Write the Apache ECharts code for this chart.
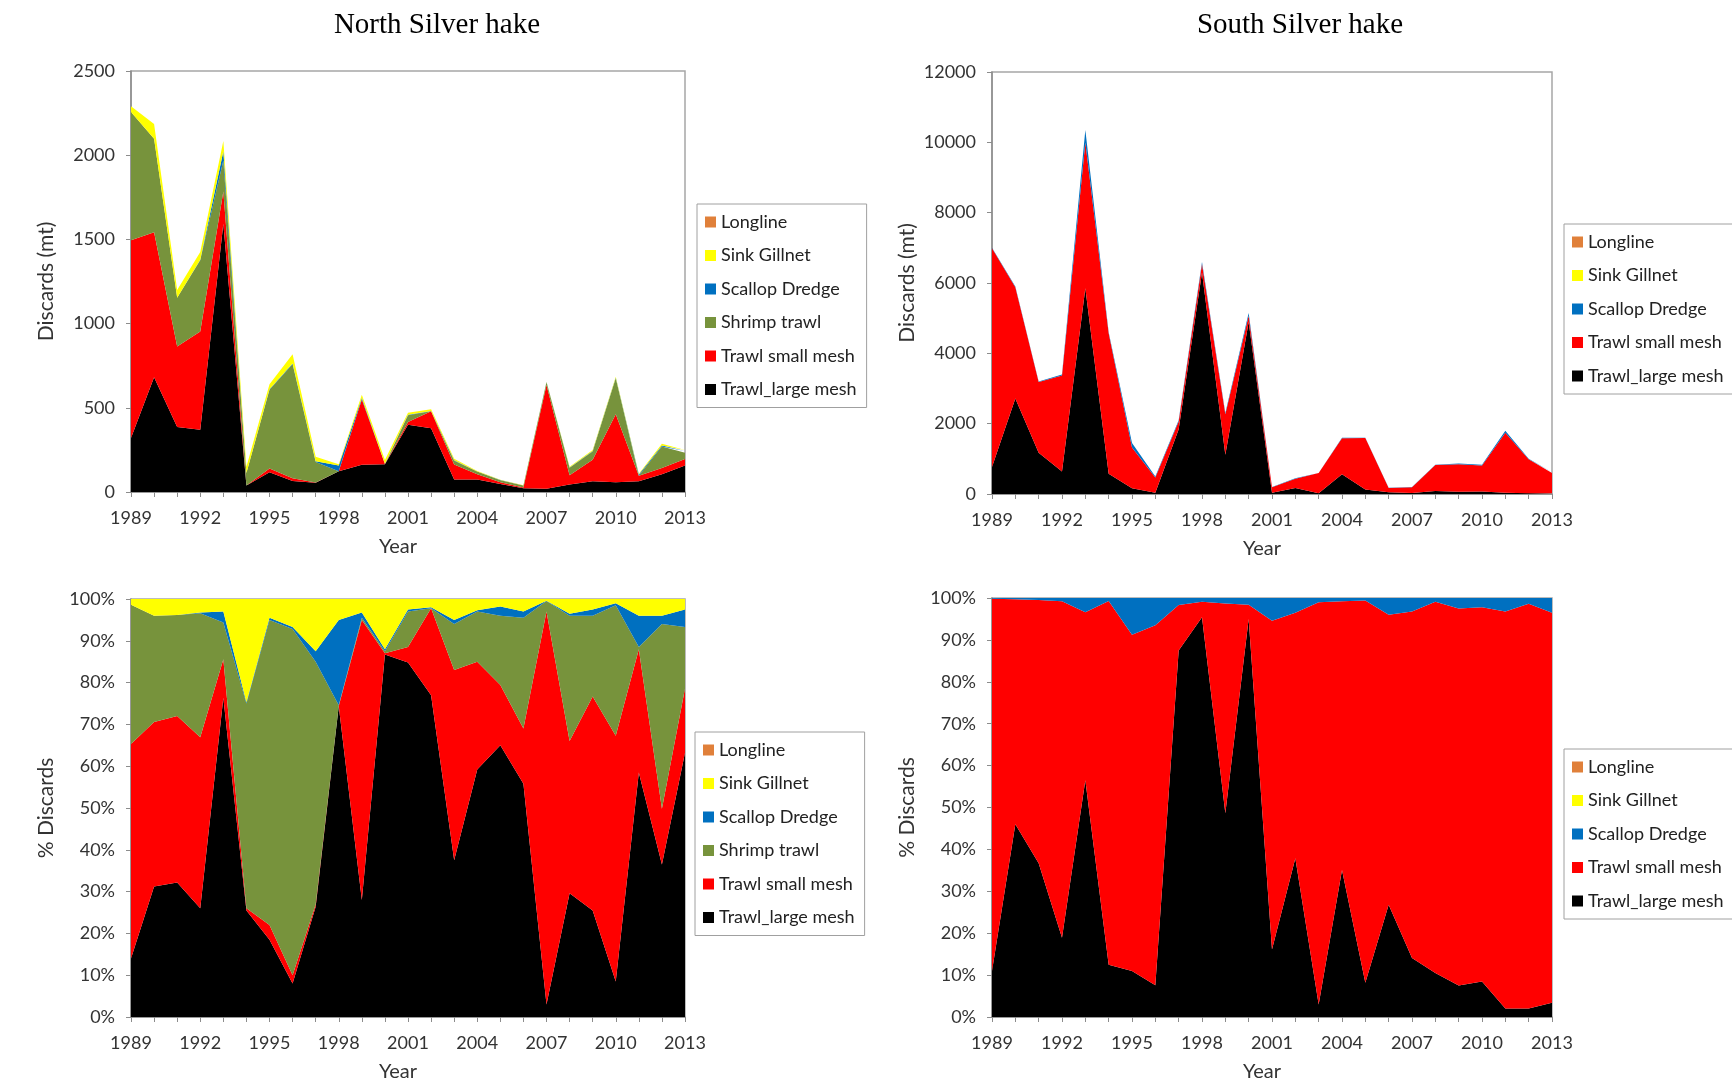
<!DOCTYPE html>
<html><head><meta charset="utf-8">
<script src="https://cdn.jsdelivr.net/npm/echarts@6/dist/echarts.min.js"></script>
<style>html,body{margin:0;padding:0;background:#fff}#c{width:1732px;height:1083px}</style>
</head><body><div id="c"></div>
<script>
const years = ['1989','1990','1991','1992','1993','1994','1995','1996','1997','1998','1999','2000','2001','2002','2003','2004','2005','2006','2007','2008','2009','2010','2011','2012','2013'];

// North Silver hake, discards (mt)
const northAbsLarge   = [320,682,386,370,1593,38,118,65,55,123,162,165,399,378,74,74,47,22,20,44,64,58,64,105,158];
const northAbsSmall   = [1175,860,478,583,192,1,22,16,1,0,387,1,17,102,90,32,10.5,5.3,616,55,128,403,32,38,38];
const northAbsShrimp  = [762,555,290,423,183,74,467,678,122,0.3,3,1,40,0,22,15,12,10.6,16,45,48,214,0.5,127,37];
const northAbsScallop = [0,0,0,3,55,0.5,3,4,5,34,7,1,2,1,2,0.4,1.6,0.6,0.7,0.8,4,3,8,6,11];
const northAbsGillnet = [33,88,46,46,62,37,30,55,26,8,19,22,12,10,10,3.4,1.3,1.2,2.6,5,6,7,4.4,11,6];
const northAbsLongline= [0,0,0,0,0,0,0,0,0,0,0,0,0,0,0,0,0,0,0,0,0,0,0,0,0];

// North Silver hake, % discards
const northPctLarge   = [14,31.2,32.2,26,76.4,25.5,18.5,8,26.4,74.4,28,86.7,84.8,77,37.5,59.2,65,55.8,3,29.6,25.5,8.5,58.5,36.5,63.2];
const northPctSmall   = [51.3,39.4,39.8,40.9,9.2,0.5,3.5,2,0.6,0,67,0.3,3.7,20.8,45.5,25.8,14.4,13.2,94,36.4,51.2,58.8,29.5,13.3,15.4];
const northPctShrimp  = [33.3,25.4,24.2,29.7,8.8,49,73,82.8,58,0.2,0.5,0.5,8.5,0,11,12,16.6,26.5,2.5,30,19.3,31.2,0.5,44.2,14.7];
const northPctScallop = [0,0,0,0.2,2.6,0.3,0.5,0.5,2.5,20.4,1.3,0.5,0.5,0.2,1,0.3,2.2,1.5,0.1,0.5,1.5,0.5,7.5,2,4.2];
const northPctGillnet = [1.4,4,3.8,3.2,3,24.7,4.5,6.7,12.5,5,3.2,12,2.5,2,5,2.7,1.8,3,0.4,3.5,2.5,1,4,4,2.5];
const northPctLongline= [0,0,0,0,0,0,0,0,0,0,0,0,0,0,0,0,0,0,0,0,0,0,0,0,0];

// South Silver hake, discards (mt)
const southAbsLarge   = [770,2714,1174,643,5848,575,160,38,1838,6296,1118,4893,32,171,18,562,131,48,28,87,65,71,36,20,21];
const southAbsSmall   = [6216,3168,2010,2730,4150,3993,1162,429,226,245,1152,175,157,263,576,1025,1459,125,166,736,783,741,1706,966,577];
const southAbsScallop = [14,18,16,27,352,32,128,33,36,59,30,82,11,16,6,13,10,7,6,7,22,18,58,14,22];
const southAbsGillnet = [0,0,0,0,0,0,0,0,0,0,0,0,0,0,0,0,0,0,0,0,0,0,0,0,0];
const southAbsLongline= [0,0,0,0,0,0,0,0,0,0,0,0,0,0,0,0,0,0,0,0,0,0,0,0,0];

// South Silver hake, % discards
const southPctLarge   = [11,46,36.7,18.9,56.5,12.5,11,7.6,87.5,95.4,48.6,95,16.1,37.9,3,35.1,8.2,26.8,14.1,10.5,7.5,8.5,2,2,3.4];
const southPctSmall   = [88.8,53.7,62.8,80.3,40.1,86.8,80.2,85.9,10.8,3.7,50.1,3.4,78.5,58.6,96,64.1,91.2,69.2,82.7,88.6,90,89.3,94.8,96.6,93.1];
const southPctScallop = [0.2,0.3,0.5,0.8,3.4,0.7,8.8,6.5,1.7,0.9,1.3,1.6,5.4,3.5,1,0.8,0.6,4,3.2,0.9,2.5,2.2,3.2,1.4,3.5];
const southPctGillnet = [0,0,0,0,0,0,0,0,0,0,0,0,0,0,0,0,0,0,0,0,0,0,0,0,0];
const southPctLongline= [0,0,0,0,0,0,0,0,0,0,0,0,0,0,0,0,0,0,0,0,0,0,0,0,0];

const legendNorth = ['Longline','Sink Gillnet','Scallop Dredge','Shrimp trawl','Trawl small mesh','Trawl_large mesh'];
const legendSouth = ['Longline','Sink Gillnet','Scallop Dredge','Trawl small mesh','Trawl_large mesh'];

const colors = {
  'Trawl_large mesh': '#000000',
  'Trawl small mesh': '#FF0000',
  'Shrimp trawl': '#77933C',
  'Scallop Dredge': '#0070C0',
  'Sink Gillnet': '#FFFF00',
  'Longline': '#E0803A'
};

function areaSeries(name, data, idx, stackId) {
  return {
    type: 'line', name: name, data: data, xAxisIndex: idx, yAxisIndex: idx,
    stack: stackId, showSymbol: false, symbol: 'none', silent: true,
    color: colors[name],
    lineStyle: { width: 0, color: colors[name] },
    areaStyle: { color: colors[name], opacity: 1 },
    animation: false
  };
}

const series = [];
[['Trawl_large mesh', northAbsLarge], ['Trawl small mesh', northAbsSmall], ['Shrimp trawl', northAbsShrimp],
 ['Scallop Dredge', northAbsScallop], ['Sink Gillnet', northAbsGillnet], ['Longline', northAbsLongline]]
 .forEach(p => series.push(areaSeries(p[0], p[1], 0, 'nAbs')));
[['Trawl_large mesh', southAbsLarge], ['Trawl small mesh', southAbsSmall],
 ['Scallop Dredge', southAbsScallop], ['Sink Gillnet', southAbsGillnet], ['Longline', southAbsLongline]]
 .forEach(p => series.push(areaSeries(p[0], p[1], 1, 'sAbs')));
[['Trawl_large mesh', northPctLarge], ['Trawl small mesh', northPctSmall], ['Shrimp trawl', northPctShrimp],
 ['Scallop Dredge', northPctScallop], ['Sink Gillnet', northPctGillnet], ['Longline', northPctLongline]]
 .forEach(p => series.push(areaSeries(p[0], p[1], 2, 'nPct')));
[['Trawl_large mesh', southPctLarge], ['Trawl small mesh', southPctSmall],
 ['Scallop Dredge', southPctScallop], ['Sink Gillnet', southPctGillnet], ['Longline', southPctLongline]]
 .forEach(p => series.push(areaSeries(p[0], p[1], 3, 'sPct')));

const FONT = 'Lato';
const axisGray = '#8c8c8c';
const grids = [
  { left: 131, top: 71, width: 554, height: 421 },
  { left: 992, top: 72, width: 560, height: 422 },
  { left: 131, top: 599, width: 554, height: 419 },
  { left: 992, top: 598, width: 560, height: 421 }
].map(g => Object.assign(g, { show: true, borderColor: '#a6a6a6', borderWidth: 1.5, backgroundColor: 'transparent', containLabel: false }));

const xAxes = [0,1,2,3].map(i => ({
  type: 'category', gridIndex: i, data: years, boundaryGap: false,
  axisLine: { lineStyle: { color: axisGray, width: 1.5 } },
  axisTick: { show: true, interval: 0, length: 5, lineStyle: { color: axisGray } },
  axisLabel: { interval: 2, margin: 17, fontFamily: FONT, fontSize: 18, color: '#333' },
  name: 'Year', nameLocation: 'middle', nameGap: 45,
  nameTextStyle: { fontFamily: FONT, fontSize: 20, color: '#333', padding: [0, 20, 0, 0] },
  splitLine: { show: false }
}));

function yAxis(i, max, interval, suffix, name) {
  return {
    type: 'value', gridIndex: i, min: 0, max: max, interval: interval,
    axisLine: { show: true, lineStyle: { color: axisGray, width: 1.5 } },
    axisTick: { show: true, length: 5, lineStyle: { color: axisGray } },
    axisLabel: { margin: 16, fontFamily: FONT, fontSize: 18, color: '#333', formatter: v => String(v) + suffix },
    splitLine: { show: false },
    name: name, nameLocation: 'middle', nameGap: 74,
    nameTextStyle: { fontFamily: FONT, fontSize: 21, color: '#333' }
  };
}
const yAxes = [
  yAxis(0, 2500, 500, '', 'Discards (mt)'),
  yAxis(1, 12000, 2000, '', 'Discards (mt)'),
  yAxis(2, 100, 10, '%', '% Discards'),
  yAxis(3, 100, 10, '%', '% Discards')
];

function legend(data, left, top, padRight) {
  return {
    data: data, orient: 'vertical', left: left, top: top, icon: 'rect',
    itemWidth: 11, itemHeight: 11, itemGap: 15.5, selectedMode: false,
    padding: [9, padRight, 9, 8], borderColor: '#a0a0a0', borderWidth: 1, backgroundColor: '#fff',
    textStyle: { fontFamily: FONT, fontSize: 18, color: '#222', lineHeight: 18 }
  };
}

const option = {
  animation: false,
  backgroundColor: '#ffffff',
  grid: grids, xAxis: xAxes, yAxis: yAxes,
  legend: [
    legend(legendNorth, 697, 204, 10),
    legend(legendSouth, 1564, 224, 24),
    legend(legendNorth, 695, 732, 10),
    legend(legendSouth, 1564, 749, 24)
  ],
  graphic: [
    { type: 'text', x: 437, y: 25, style: { text: 'North Silver hake', font: '29px "Liberation Serif"', fill: '#000', textAlign: 'center', textVerticalAlign: 'middle' } },
    { type: 'text', x: 1300, y: 25, style: { text: 'South Silver hake', font: '29px "Liberation Serif"', fill: '#000', textAlign: 'center', textVerticalAlign: 'middle' } }
  ],
  series: series
};

const chart = echarts.init(document.getElementById('c'), null, { renderer: 'canvas' });
chart.setOption(option);
</script></body></html>
